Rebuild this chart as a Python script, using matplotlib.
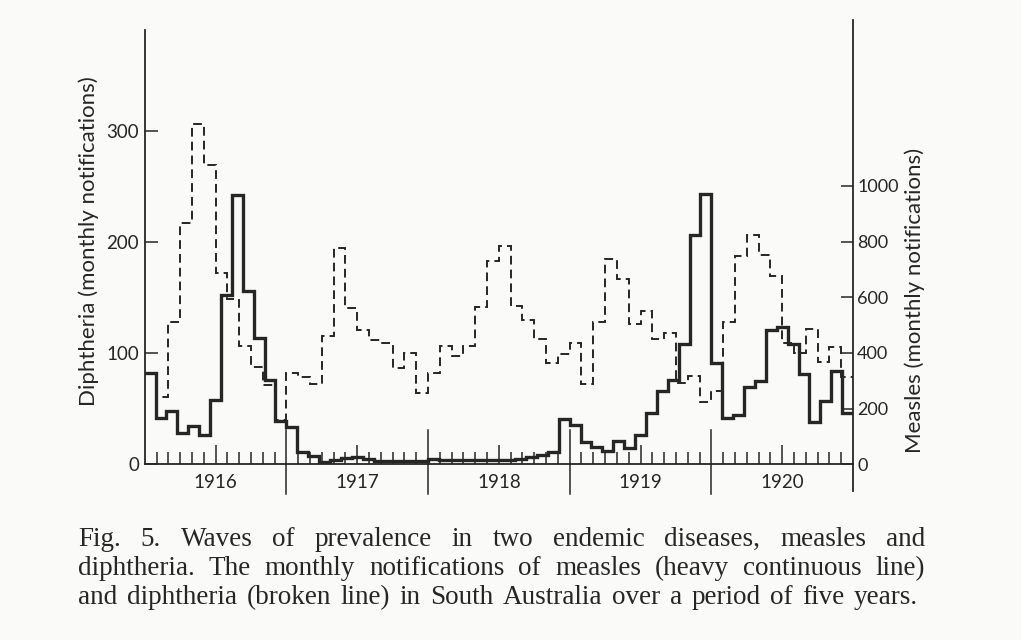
import numpy as np
import matplotlib
matplotlib.use("Agg")
import matplotlib.pyplot as plt
import matplotlib.transforms as mtransforms

# monthly diphtheria notifications (broken line, left axis), Jan 1916 .. Dec 1920
diph_1916 = [82, 61, 128, 217, 307, 270, 172, 149, 107, 88, 71, 40]
diph_1917 = [82, 79, 72, 116, 195, 141, 121, 112, 109, 87, 100, 64]
diph_1918 = [82, 107, 98, 107, 142, 183, 197, 143, 130, 113, 91, 99]
diph_1919 = [109, 72, 128, 185, 167, 126, 138, 113, 118, 73, 80, 56]
diph_1920 = [66, 128, 188, 207, 189, 170, 109, 100, 122, 92, 106, 79]

# measles (heavy line, right axis) - drawn as 13 four-weekly periods per year
measles_1916 = [328, 168, 192, 113, 137, 105, 231, 610, 966, 622, 455, 302, 157]
measles_1917 = [135, 45, 30, 8, 15, 22, 28, 18, 12, 11, 11, 11, 11]
measles_1918 = [20, 15, 14, 14, 14, 14, 14, 16, 20, 27, 35, 45, 164]
measles_1919 = [141, 81, 63, 49, 84, 57, 105, 183, 264, 303, 434, 823, 970]
measles_1920 = [365, 165, 177, 279, 298, 482, 493, 433, 325, 153, 228, 334, 186]

years = [1916, 1917, 1918, 1919, 1920]
left_ticks = [0, 100, 200, 300]
right_ticks = [0, 200, 400, 600, 800, 1000]

caption = [
    "Fig. 5.  Waves of prevalence in two endemic diseases, measles and",
    "diphtheria. The monthly notifications of measles (heavy continuous line)",
    "and diphtheria (broken line) in South Australia over a period of five years.",
]

diph = np.concatenate([diph_1916, diph_1917, diph_1918, diph_1919, diph_1920])
measles = np.concatenate([measles_1916, measles_1917, measles_1918,
                          measles_1919, measles_1920])

ink = "#262626"
sans = ["Lato", "DejaVu Sans"]
serif = ["Liberation Serif", "DejaVu Serif"]

W, H = 1021, 640
fig = plt.figure(figsize=(W / 100, H / 100), dpi=100, facecolor="#fafaf8")

# axes box in pixels (left, right, baseline, top)
x0, x1, yb, yt = 144.7, 853.0, 464.3, 20.0
ax = fig.add_axes([x0 / W, (H - yb) / H, (x1 - x0) / W, (yb - yt) / H])
ax.set_facecolor("none")
ax2 = ax.twinx()

first, last = years[0], years[-1] + 1
d_edges = first + np.arange(len(diph) + 1) / 12
m_edges = first + np.arange(len(measles) + 1) / 13

ax.stairs(diph, d_edges, baseline=None, color=ink, lw=1.4,
          linestyle=(0, (4.5, 2.6)))
ax2.stairs(measles, m_edges, baseline=None, color=ink, lw=2.4)

ax.set_xlim(first, last)
ax.set_ylim(0, (yb - yt) / 1.11)
ax2.set_ylim(0, (yb - yt) / 0.2783)

for a in (ax, ax2):
    a.spines["top"].set_visible(False)
    for s in a.spines.values():
        s.set_color(ink)
        s.set_linewidth(1.3)
ax.spines["right"].set_visible(False)
ax2.spines["left"].set_visible(False)
ax2.spines["bottom"].set_visible(False)
ax.spines["left"].set_bounds(0, 391)

# month ticks, taller at mid-year, year names under the mid-year tick
months = first + np.arange(1, 12 * len(years)) / 12
mids = [y + 0.5 for y in years]
ax.set_xticks(mids)
ax.set_xticklabels([str(y) for y in years])
ax.set_xticks([m for m in months if abs(m * 12 - round(m * 12 / 6) * 6) > 1e-6],
              minor=True)
ax.tick_params(axis="x", which="major", direction="in", length=13.5, width=1.1,
               color=ink, pad=7, labelsize=13.5, labelcolor=ink)
ax.tick_params(axis="x", which="minor", direction="in", length=8.5, width=1.1,
               color=ink)

ax.set_yticks(left_ticks)
ax.tick_params(axis="y", direction="in", length=9.5, width=1.1, color=ink,
               pad=4, labelsize=13.5, labelcolor=ink)
ax2.set_yticks(right_ticks)
ax2.tick_params(axis="y", direction="in", length=8.5, width=1.1, color=ink,
                pad=3, labelsize=13, labelcolor=ink)
for lab in ax.get_xticklabels() + ax.get_yticklabels() + ax2.get_yticklabels():
    lab.set_family(sans)

# year separators crossing the base line
trans = mtransforms.blended_transform_factory(ax.transData, ax.transAxes)
below, above = 30 / (yb - yt), 34 / (yb - yt)
for y in years[1:]:
    ax.plot([y, y], [-below, above], transform=trans, color=ink, lw=1.1,
            clip_on=False)
# right axis runs on a little below the base line
ax.plot([1, 1], [-0.06, 0], transform=ax.transAxes, color=ink, lw=1.3,
        clip_on=False)

fig.text(89 / W, 1 - 241 / H, "Diphtheria (monthly notifications)",
         rotation=90, ha="center", va="center", fontsize=16, family=sans,
         color=ink)
fig.text(915 / W, 1 - 300 / H, "Measles (monthly notifications)",
         rotation=90, ha="center", va="center", fontsize=16, family=sans,
         color=ink)

# justified caption, word by word
renderer = fig.canvas.get_renderer()
baselines = [546, 575, 604]
rights = [925, 925, 918]
for line, base, right in zip(caption, baselines, rights):
    words = line.split()
    texts = [fig.text(0, 1 - base / H, w, fontsize=19.5, family=serif,
                      color=ink, va="baseline") for w in words]
    widths = [t.get_window_extent(renderer).width for t in texts]
    gap = max((right - 78 - sum(widths)) / (len(words) - 1), 3.0)
    x = 78.0
    for t, w in zip(texts, widths):
        t.set_x(x / W)
        x += w + gap

fig.savefig("out.png", dpi=100, facecolor=fig.get_facecolor())
